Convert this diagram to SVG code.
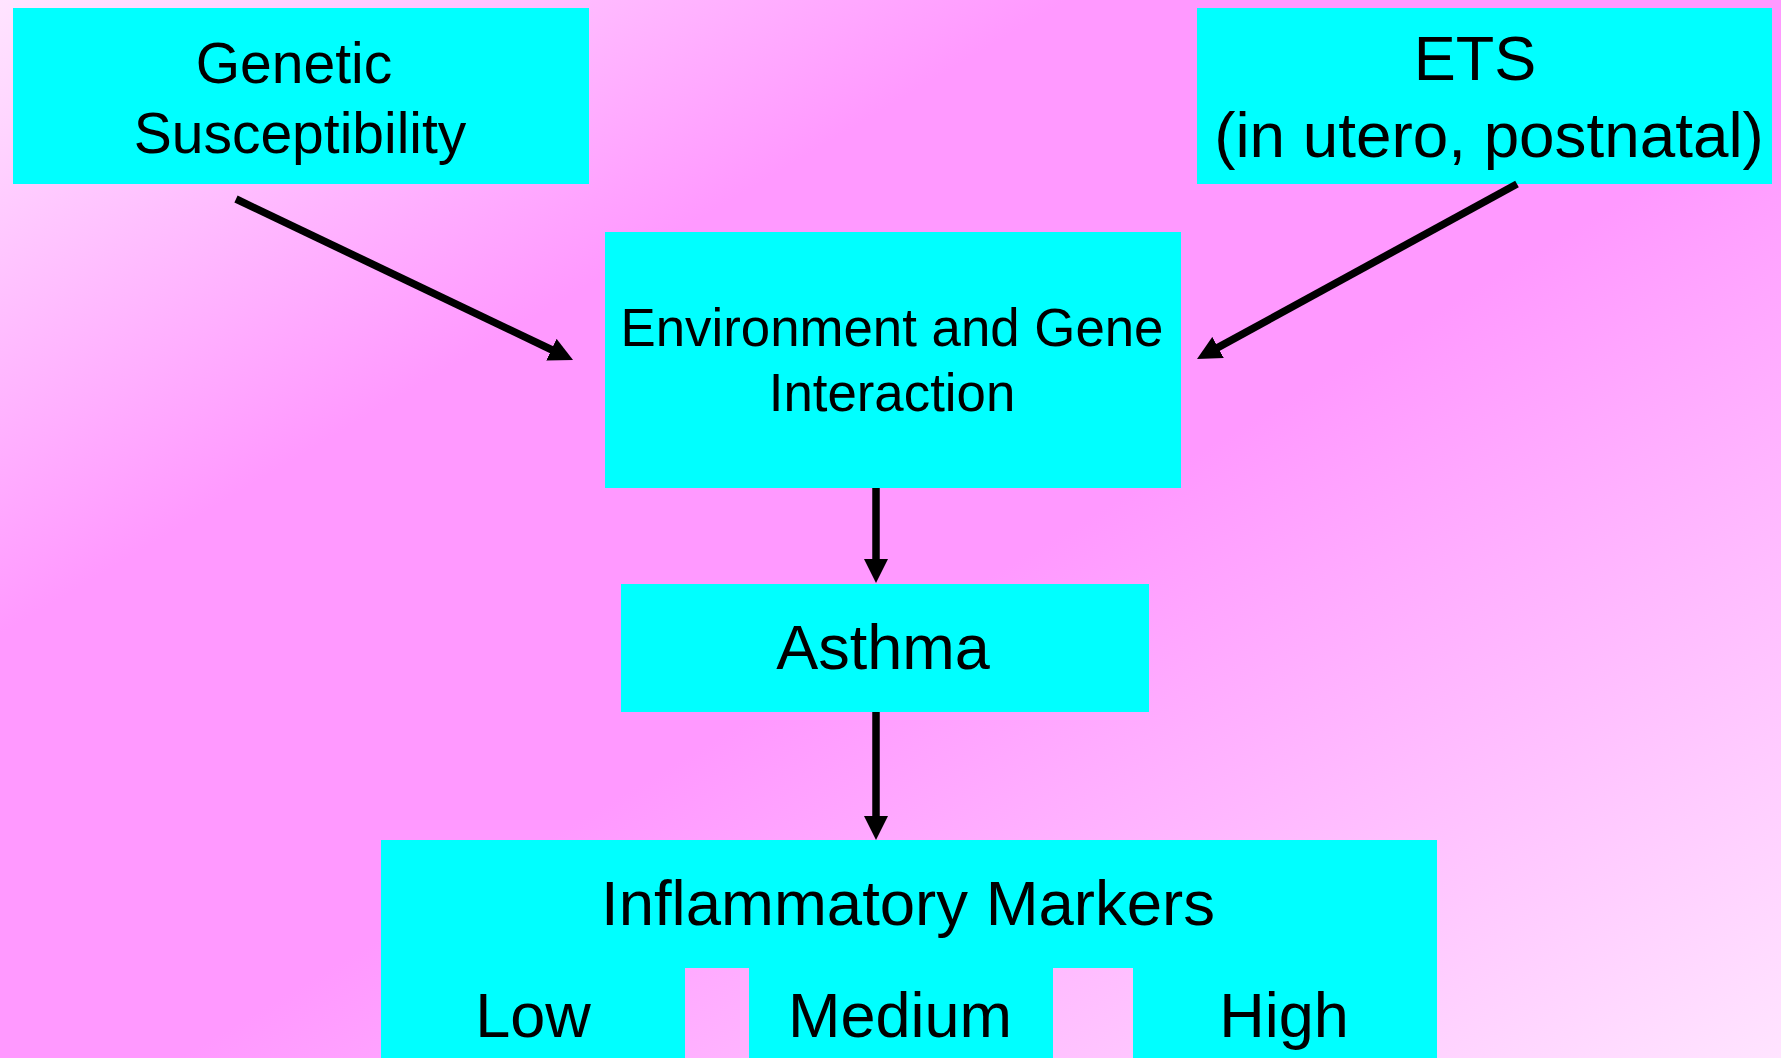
<svg xmlns="http://www.w3.org/2000/svg" width="1781" height="1058" viewBox="0 0 1781 1058">
  <defs>
    <linearGradient id="bg" x1="0" y1="0" x2="1" y2="1">
      <stop offset="0" stop-color="#ffe4ff"/>
      <stop offset="0.3" stop-color="#ff99ff"/>
      <stop offset="0.55" stop-color="#ff99ff"/>
      <stop offset="1" stop-color="#ffe4ff"/>
    </linearGradient>
    <marker id="arrow" viewBox="0 0 24 24" refX="2" refY="12" markerWidth="24" markerHeight="24" markerUnits="userSpaceOnUse" orient="auto">
      <path d="M0,0 L24,12 L0,24 z" fill="#000"/>
    </marker>
  </defs>
  <style>
    .box { fill: #00ffff; }
    .t { font-family: "Liberation Sans", Arial, sans-serif; fill: #000; text-anchor: middle; }
    .conn { stroke: #000; stroke-width: 7.5; fill: none; marker-end: url(#arrow); }
  </style>
  <rect x="0" y="0" width="1781" height="1058" fill="url(#bg)"/>

  <g id="genetic">
    <rect class="box" x="13" y="8" width="576" height="176"/>
    <text class="t" x="294" y="83" font-size="57">Genetic</text>
    <text class="t" x="300" y="153" font-size="57">Susceptibility</text>
  </g>

  <g id="ets">
    <rect class="box" x="1197" y="8" width="575" height="176"/>
    <text class="t" x="1475" y="80" font-size="63">ETS</text>
    <text class="t" x="1489" y="157" font-size="63.8">(in utero, postnatal)</text>
  </g>

  <g id="interaction">
    <rect class="box" x="605" y="232" width="576" height="256"/>
    <text class="t" x="892" y="346" font-size="52.8">Environment and Gene</text>
    <text class="t" x="892" y="411" font-size="52.8">Interaction</text>
  </g>

  <g id="asthma">
    <rect class="box" x="621" y="584" width="528" height="128"/>
    <text class="t" x="883" y="669" font-size="63">Asthma</text>
  </g>

  <g id="markers">
    <path class="box" d="M381,840 H1437 V1058 H1133 V968 H1053 V1058 H749 V968 H685 V1058 H381 Z"/>
    <text class="t" x="908" y="925" font-size="63.5">Inflammatory Markers</text>
    <text class="t" x="533" y="1037" font-size="63">Low</text>
    <text class="t" x="900" y="1037" font-size="63">Medium</text>
    <text class="t" x="1284" y="1037" font-size="63">High</text>
  </g>

  <g id="connectors">
    <line class="conn" x1="236" y1="199" x2="553.2" y2="350.5"/>
    <line class="conn" x1="1517" y1="184" x2="1216.3" y2="348.4"/>
    <line class="conn" x1="876" y1="488" x2="876" y2="561"/>
    <line class="conn" x1="876" y1="712" x2="876" y2="818"/>
  </g>
</svg>
